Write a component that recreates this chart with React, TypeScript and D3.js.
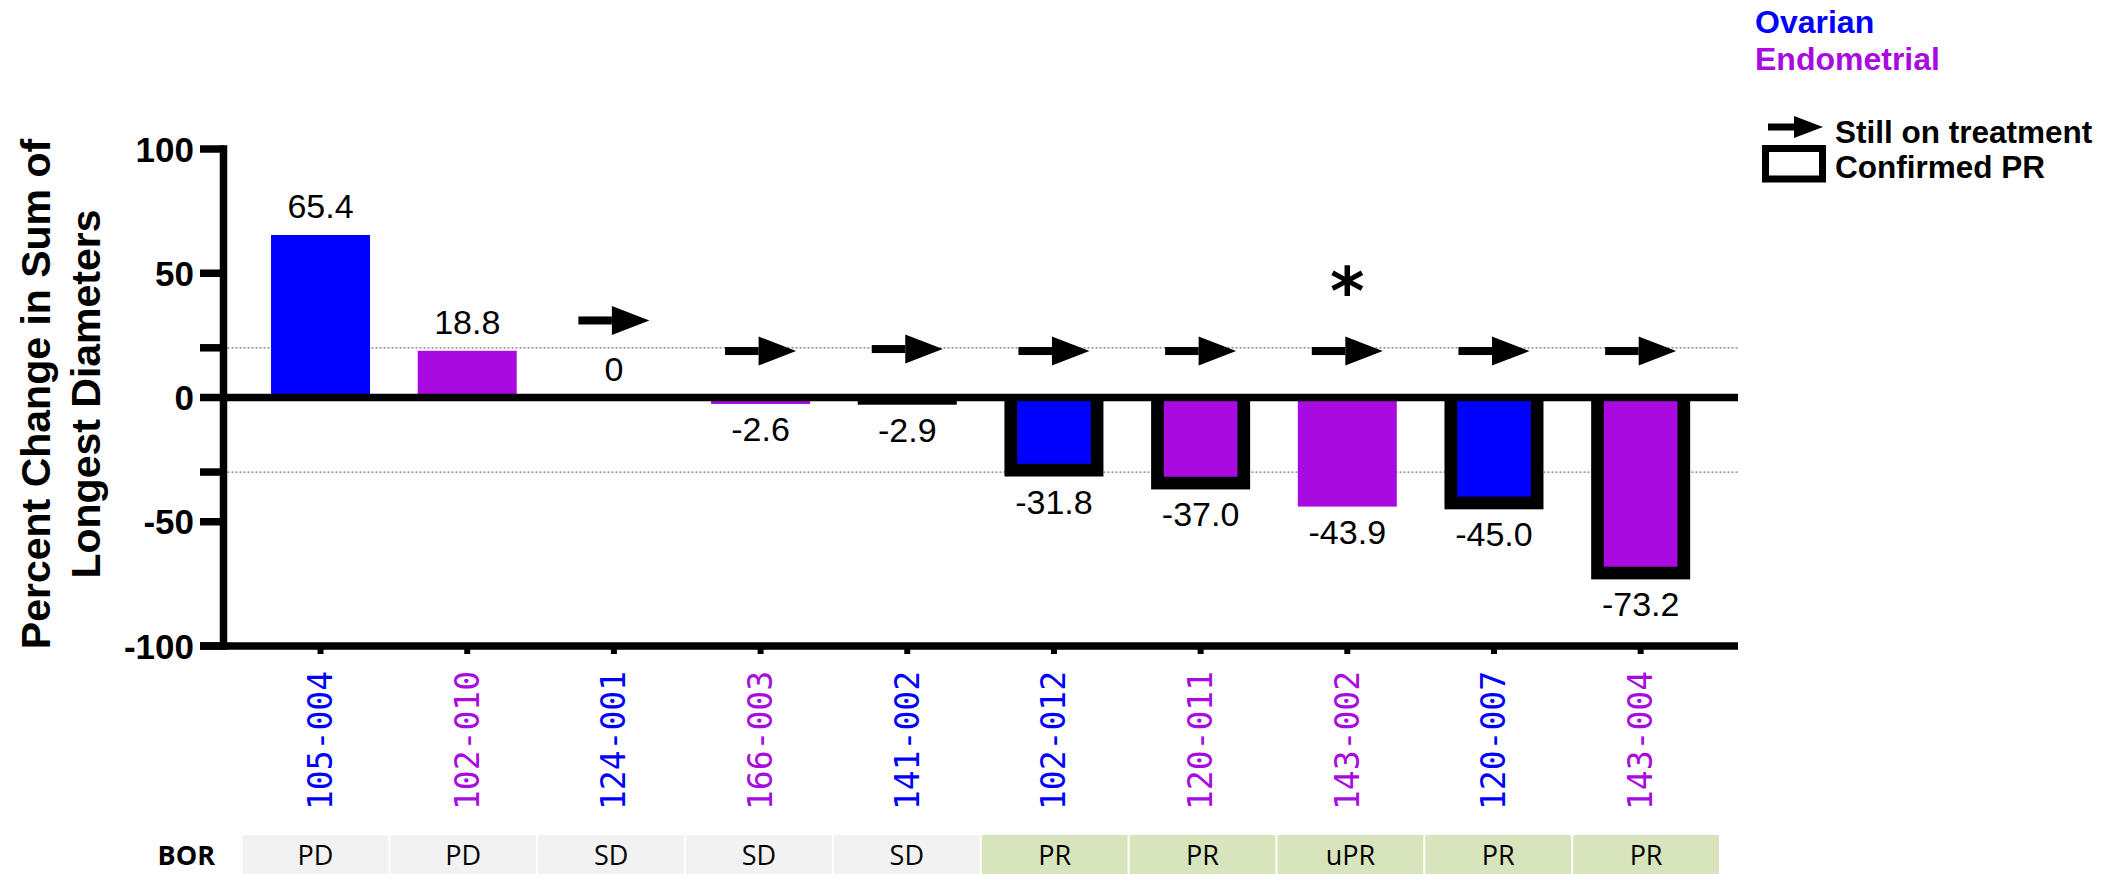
import React from "react";
import * as d3 from "d3";

// Waterfall of best percent change in sum of longest diameters, per patient
const patients = ["105-004", "102-010", "124-001", "166-003", "141-002", "102-012", "120-011", "143-002", "120-007", "143-004"];
const tumorTypes = ["Ovarian", "Endometrial", "Ovarian", "Endometrial", "Ovarian", "Ovarian", "Endometrial", "Endometrial", "Ovarian", "Endometrial"];
const pctChange = [65.4, 18.8, 0, -2.6, -2.9, -31.8, -37.0, -43.9, -45.0, -73.2];
const bestResponse = ["PD", "PD", "SD", "SD", "SD", "PR", "PR", "uPR", "PR", "PR"];
// bars drawn with a heavy black outline
const outlined = [false, false, false, false, true, true, true, false, true, true];
// "still on treatment" arrow level (percent units), null when absent
const arrowLevel = [null, null, 31, 18.7, 19.5, 18.7, 18.7, 18.7, 18.7, 18.7];
const asteriskIndex = 7;
const asteriskLevel = 49;

const labeledTicks = [-100, -50, 0, 50, 100];
const thresholdTicks = [20, -30];

const tumorColor: Record<string, string> = { Ovarian: "#0000ff", Endometrial: "#a90ae0" };
const borFill: Record<string, string> = { PD: "#f2f2f2", SD: "#f2f2f2", PR: "#d8e4bc", uPR: "#d8e4bc" };

const W = 2105;
const H = 874;
const axisX = 223.5;
const axisEnd = 1738;
const BORDER = 12.7;

const fmt = (v: number) => (v === 0 ? "0" : v.toFixed(1));

export default function App() {
  const y = d3.scaleLinear().domain([-100, 100]).range([646, 149]);
  const x = d3.scaleBand<string>().domain(patients).range([247.2, 1714]).paddingInner(0.325).paddingOuter(0.1625);
  const xt = d3.scaleBand<string>().domain(patients).range([242.5, 1719]).paddingInner(0.0136);
  const y0 = y(0);
  const bw = x.bandwidth();

  const arrow = (cx: number, cy: number, half: number, shaftW: number, triH: number, split: number, key: string) => (
    <g key={key}>
      <rect x={cx - half} y={cy - shaftW / 2} width={half + split} height={shaftW} fill="#000" />
      <path d={`M${cx + split},${cy - triH / 2}L${cx + half},${cy}L${cx + split},${cy + triH / 2}Z`} fill="#000" />
    </g>
  );

  return (
    <svg width={W} height={H} style={{ position: "absolute", left: 0, top: 0, background: "#fff" }}>
      {/* threshold guides */}
      {thresholdTicks.map((t) => (
        <line key={"g" + t} x1={axisX} x2={axisEnd} y1={y(t)} y2={y(t)} stroke="#777" strokeWidth={1.3} strokeDasharray="2,2" />
      ))}

      {/* bars */}
      {patients.map((p, i) => {
        const v = pctChange[i];
        if (v === 0) return null;
        const x0 = x(p)!;
        const top = Math.min(y(v), y0);
        const h = Math.abs(y(v) - y0);
        const col = tumorColor[tumorTypes[i]];
        if (!outlined[i]) return <rect key={p} x={x0} y={top} width={bw} height={h} fill={col} />;
        const innerH = h - BORDER;
        return (
          <g key={p}>
            <rect x={x0} y={top} width={bw} height={h} fill="#000" />
            {innerH > 0 && <rect x={x0 + BORDER} y={top} width={bw - 2 * BORDER} height={innerH} fill={col} />}
          </g>
        );
      })}

      {/* value labels */}
      {patients.map((p, i) => {
        const v = pctChange[i];
        const cx = x(p)! + bw / 2;
        const by = v >= 0 ? y(v) - 17 : y(v) + 37;
        return (
          <text key={"v" + p} x={cx} y={by} textAnchor="middle" fontFamily="'Liberation Sans', Arial, sans-serif" fontSize={34} fill="#000">
            {fmt(v)}
          </text>
        );
      })}

      {/* arrows: still on treatment */}
      {patients.map((p, i) => {
        const lv = arrowLevel[i];
        if (lv === null) return null;
        const cx = x(p)! + bw / 2;
        return arrow(cx, y(lv), 35.5, 8, 29, -2, "a" + p);
      })}

      {/* asterisk */}
      <text x={x(patients[asteriskIndex])! + bw / 2} y={y(asteriskLevel) + 38} textAnchor="middle" fontFamily="'DejaVu Sans', sans-serif" fontWeight="bold" fontSize={66} fill="#000">
        *
      </text>

      {/* zero line */}
      <line x1={axisX} x2={axisEnd} y1={y0} y2={y0} stroke="#000" strokeWidth={7.5} />

      {/* y axis */}
      <line x1={axisX} x2={axisX} y1={y(100) - 3.75} y2={y(-100) + 3.75} stroke="#000" strokeWidth={7.5} />
      {[...labeledTicks, ...thresholdTicks].map((t) => (
        <line key={"t" + t} x1={200} x2={axisX} y1={y(t)} y2={y(t)} stroke="#000" strokeWidth={7.5} />
      ))}
      {labeledTicks.map((t) => (
        <text key={"l" + t} x={194} y={y(t)} dy="0.36em" textAnchor="end" fontFamily="'Liberation Sans', Arial, sans-serif" fontWeight="bold" fontSize={35} fill="#000">
          {t}
        </text>
      ))}

      {/* bottom axis */}
      <line x1={200} x2={axisEnd} y1={y(-100)} y2={y(-100)} stroke="#000" strokeWidth={7.5} />
      {patients.map((p) => {
        const cx = x(p)! + bw / 2;
        return <line key={"bt" + p} x1={cx} x2={cx} y1={y(-100)} y2={y(-100) + 8} stroke="#000" strokeWidth={6} />;
      })}

      {/* y axis title */}
      <g transform="translate(50,394) rotate(-90)">
        <text x={0} y={0} textAnchor="middle" fontFamily="'Liberation Sans', Arial, sans-serif" fontWeight="bold" fontSize={41} fill="#000">
          Percent Change in Sum of
        </text>
        <text x={0} y={50} textAnchor="middle" fontFamily="'Liberation Sans', Arial, sans-serif" fontWeight="bold" fontSize={41} fill="#000">
          Longest Diameters
        </text>
      </g>

      {/* patient ids */}
      {patients.map((p, i) => {
        const cx = x(p)! + bw / 2;
        return (
          <text key={"c" + p} transform={`translate(${cx},671) rotate(-90)`} textAnchor="end" dominantBaseline="central" fontFamily="'DejaVu Sans Mono', monospace" fontSize={33} fill={tumorColor[tumorTypes[i]]}>
            {p}
          </text>
        );
      })}

      {/* BOR row */}
      <text x={215} y={865} textAnchor="end" fontFamily="'Open Sans', sans-serif" fontWeight="bold" fontSize={27} fill="#000">
        BOR
      </text>
      {patients.map((p, i) => {
        const cx = xt(p)!;
        return (
          <g key={"b" + p}>
            <rect x={cx} y={835} width={xt.bandwidth()} height={39} fill={borFill[bestResponse[i]]} />
            <text x={cx + xt.bandwidth() / 2} y={865} textAnchor="middle" fontFamily="'Open Sans', sans-serif" fontSize={27} fill="#000">
              {bestResponse[i]}
            </text>
          </g>
        );
      })}

      {/* legend */}
      <text x={1755} y={33} fontFamily="'Liberation Sans', Arial, sans-serif" fontWeight="bold" fontSize={32} fill={tumorColor.Ovarian}>
        Ovarian
      </text>
      <text x={1755} y={70} fontFamily="'Liberation Sans', Arial, sans-serif" fontWeight="bold" fontSize={32} fill={tumorColor.Endometrial}>
        Endometrial
      </text>
      {arrow(1795.5, 127, 27.5, 7, 22, -1.5, "legend-arrow")}
      <text x={1835} y={143} fontFamily="'Liberation Sans', Arial, sans-serif" fontWeight="bold" fontSize={31.5} fill="#000">
        Still on treatment
      </text>
      <rect x={1765.5} y={148.5} width={57} height={30.5} fill="none" stroke="#000" strokeWidth={7} />
      <text x={1835} y={178} fontFamily="'Liberation Sans', Arial, sans-serif" fontWeight="bold" fontSize={31.5} fill="#000">
        Confirmed PR
      </text>
    </svg>
  );
}
